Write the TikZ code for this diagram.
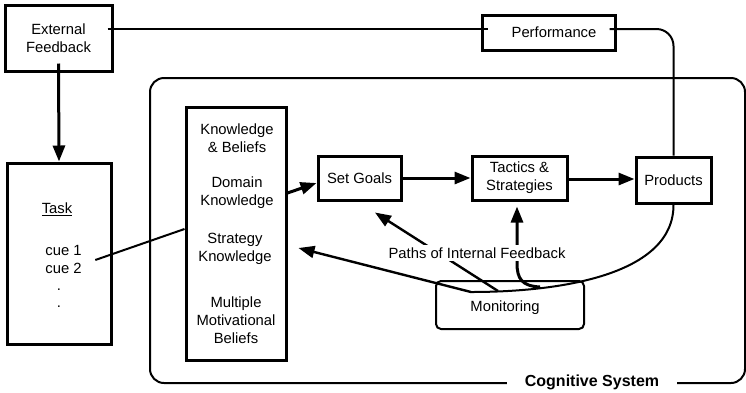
\documentclass[tikz,border=0pt]{standalone}
\usepackage{fontspec}
\setmainfont{Liberation Sans}
\usetikzlibrary{arrows.meta,calc}
\begin{document}
\begin{tikzpicture}[x=1pt,y=-1pt,
  every node/.style={inner sep=0pt, font=\fontsize{14.8}{18}\selectfont, align=center},
  box/.style={draw, line width=3pt},
  conn/.style={line width=2pt},
  arr/.style={line width=3pt, -{Triangle[length=16pt,width=12pt]}},
  farr/.style={line width=2.4pt, -{Triangle[length=16pt,width=12pt]}}]
\useasboundingbox (0,0) rectangle (746,392);

% cognitive system frame
\draw[line width=2pt, rounded corners=14pt] (150,78) rectangle (745,383);
\node[fill=white, inner xsep=18pt, inner ysep=3pt, font=\bfseries\fontsize{16}{19}\selectfont] (cog) at (592,382) {Cognitive System};

% boxes
\node[box, minimum width=107pt, minimum height=66pt] (ef) at (58.5,38) {External\\Feedback};
\node[box, minimum width=133pt, minimum height=35pt] (perf) at (548.5,32.5) {\hspace*{11pt}Performance};
\node[box, minimum width=104pt, minimum height=181pt] (task) at (59,253.5) {};
\node[box, minimum width=100pt, minimum height=253pt] (know) at (236,233.5) {};
\node[box, minimum width=83pt, minimum height=44pt] (sg) at (359.5,178) {Set Goals};
\node[box, minimum width=95pt, minimum height=44pt] (tac) at (519.5,178) {Tactics \&\\Strategies};
\node[box, minimum width=75pt, minimum height=46pt] (prod) at (673.5,180) {Products};
\node[draw, line width=2pt, rounded corners=5pt, minimum width=148pt, minimum height=48pt] (mon) at (510,305) {};
\node (mont) at (505,308) {Monitoring};

% task texts
\node (tasklbl) at (57,209) {\underline{Task}};
\node (cue1) at (63.5,250) {cue 1};
\node (cue2) at (63.5,268) {cue 2};
\node (d1) at (59,290) {.};
\node (d2) at (59,307) {.};

% knowledge texts
\node (kb) at (237,138.5) {Knowledge\\\& Beliefs};
\node (dk) at (237,193) {Domain\\Knowledge};
\node (sk) at (235,249) {Strategy\\Knowledge};
\node (mb) at (236,320) {Multiple\\Motivational\\Beliefs};

% external connectors
\draw[conn] ([xshift=-6pt,yshift=9pt]ef.east) -- ([xshift=7pt,yshift=3.5pt]perf.west);
\draw[conn, rounded corners=17pt] ([xshift=-7pt,yshift=3.5pt]perf.east) -| (prod.north);
\draw[arr] ([yshift=9pt]ef.south) -- (task.north);
\draw[conn] ([xshift=13.5pt,yshift=8pt]cue2.east) -- ([yshift=4.5pt]know.west);

% main flow
\draw[arr] ([yshift=40.5pt]know.east) -- ([yshift=-5pt]sg.west);
\draw[arr] (sg.east) -- (sg.east -| tac.west);
\draw[arr] ([yshift=-1pt]tac.east) -- ([yshift=-1pt]tac.east -| prod.west);

% internal feedback
\coordinate (m1) at (471,292);
\coordinate (m2) at (498,291);
\coordinate (m3) at (540,287);
\coordinate (m4) at (517,263);
\draw[conn] (prod.south) .. controls (674,275) and (560,292) .. (m1);
\draw[farr] (m1) -- ([xshift=11pt,yshift=-14.5pt]know.east);
\draw[farr] (m2) -- ([xshift=15.5pt,yshift=-11pt]sg.south);
\draw[arr] (m3) .. controls (522,286) and (517,279) .. (m4) -- ($(m4 |- tac.south)+(0,5)$);
\node[fill=white, inner xsep=1pt, inner ysep=3pt] (pif) at (477,253) {Paths of Internal Feedback};
\end{tikzpicture}
\end{document}
